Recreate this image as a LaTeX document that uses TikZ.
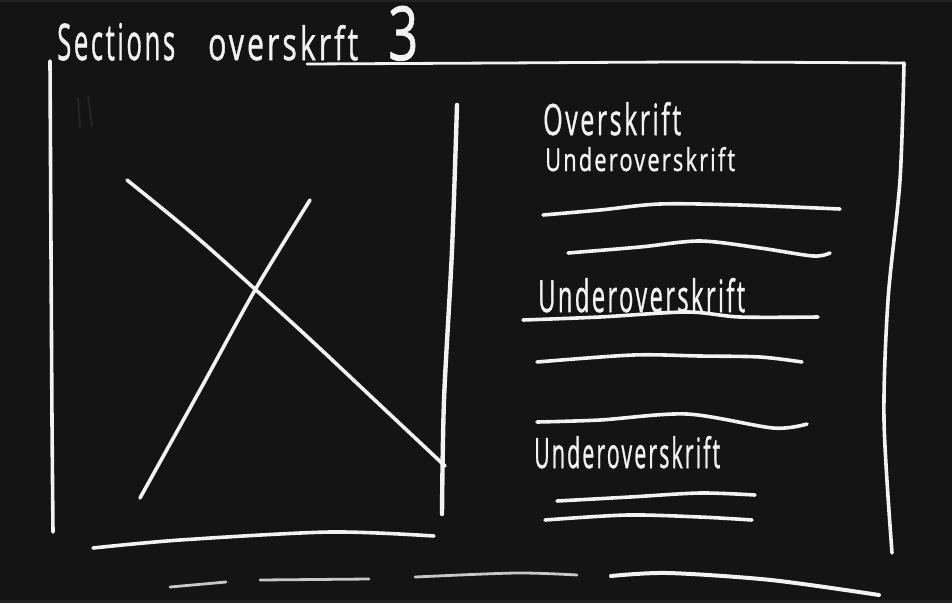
\documentclass[tikz,border=0pt]{standalone}
\usepackage{fontspec}
\setmainfont{Open Sans}
\newfontfamily\handfont[LetterSpace=10, FakeBold=1.2]{Open Sans}
\usepackage{graphicx}
\definecolor{bg}{HTML}{141414}
\definecolor{edge}{HTML}{222222}
\definecolor{chalk}{HTML}{F2F2F2}
\definecolor{chalkdim}{HTML}{C8C8C8}
\definecolor{ghost}{HTML}{252525}
\tikzset{
  stroke/.style={draw=chalk, line width=3.6pt, line cap=round, line join=round},
  thin stroke/.style={stroke, line width=2.8pt},
  dim stroke/.style={stroke, draw=chalkdim, line width=2.8pt},
  hand/.style={text=chalk, inner sep=0pt, anchor=base west, font=\handfont}
}
\begin{document}
\begin{tikzpicture}[x=1pt, y=-1pt]
\fill[bg] (0,0) rectangle (952,603);
\fill[edge] (0,0) rectangle (952,2);
\fill[edge] (0,600) rectangle (952,603);
\useasboundingbox (0,0) rectangle (952,603);

% title
\node[hand] (title1) at (57,60) {\resizebox{118pt}{37pt}{Sections}};
\node[hand] (title2) at (208,60) {\resizebox{150pt}{35pt}{overskrft}};
\node[hand] (three) at (388,60) {\resizebox{30pt}{54pt}{3}};

% faint mark
\draw[draw=ghost, line width=2pt, line cap=round] (78,98) -- (80,128);
\draw[draw=ghost, line width=2pt, line cap=round] (88,96) -- (92,126);

% frame
\draw[thin stroke] plot[smooth] coordinates {(307,64) (500,63) (700,62) (904,63)};
\draw[stroke] plot[smooth] coordinates {(904,63) (900,180) (888,300) (884,420) (892,553)};
\draw[stroke] plot[smooth] coordinates {(50,61) (51,250) (52,420) (53,532)};

% image placeholder
\draw[stroke, line width=4.4pt] plot[smooth] coordinates {(457,105) (452,250) (444,400) (442,514)};
\draw[stroke] plot[smooth] coordinates {(127,180) (200,240) (300,330) (380,405) (445,466)};
\draw[stroke] plot[smooth] coordinates {(310,200) (255,290) (200,390) (140,498)};
\draw[stroke] plot[smooth] coordinates {(93,548) (180,540) (330,532) (434,536)};

% right column text
\node[hand] (h1) at (543,135) {\resizebox{138pt}{33pt}{Overskrift}};
\node[hand] (h2) at (545,171) {\resizebox{190pt}{24pt}{Underoverskrift}};
\draw[stroke] plot[smooth] coordinates {(543,215) (600,210) (660,204) (740,205) (840,209)};
\draw[stroke] plot[smooth] coordinates {(568,253) (640,247) (700,241) (760,248) (813,256) (830,253)};

\node[hand] (h3) at (538,312) {\resizebox{207pt}{34pt}{Underoverskrift}};
\draw[stroke] plot[smooth] coordinates {(523,320) (600,317) (687,312) (740,317) (818,317)};
\draw[stroke] plot[smooth] coordinates {(537,362) (633,355) (700,356) (760,357) (802,362)};
\draw[stroke] plot[smooth] coordinates {(537,422) (600,420) (687,414) (773,428) (807,424)};

\node[hand] (h4) at (534,468) {\resizebox{186pt}{32pt}{Underoverskrift}};
\draw[stroke] plot[smooth] coordinates {(557,501) (630,497) (700,493) (755,495)};
\draw[stroke] plot[smooth] coordinates {(545,520) (627,515) (700,517) (752,520)};

% bottom dashes
\draw[dim stroke] (170,587) -- (226,582);
\draw[dim stroke] (260,580) -- (369,579);
\draw[dim stroke] plot[smooth] coordinates {(415,577) (516,573) (577,575)};
\draw[stroke, line width=4pt] plot[smooth] coordinates {(611,576) (668,573) (771,580) (879,595)};
\end{tikzpicture}
\end{document}
